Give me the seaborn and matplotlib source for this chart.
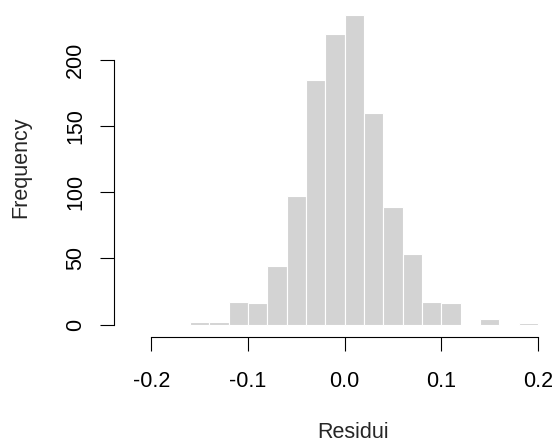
import numpy as np
import pandas as pd
import matplotlib
matplotlib.use("Agg")
import matplotlib.pyplot as plt
import seaborn as sns

# histogram of residuals, bins of width 0.02 from -0.22 to 0.24
bin_edges = [round(-0.22 + 0.02 * i, 2) for i in range(24)]
counts = [0, 0, 0, 2, 2, 17, 16, 44, 97, 185, 220, 234,
          160, 89, 53, 17, 16, 0, 4, 0, 1, 0, 0]
x_ticks = [-0.2, -0.1, 0.0, 0.1, 0.2]
x_tick_labels = ["-0.2", "-0.1", "0.0", "0.1", "0.2"]
y_ticks = [0, 50, 100, 150, 200]

centers = [(a + b) / 2 for a, b in zip(bin_edges[:-1], bin_edges[1:])]
df = pd.DataFrame({"residui": centers, "freq": counts})

sns.set_style("white")
plt.rcParams["font.family"] = ["Liberation Sans", "DejaVu Sans"]
plt.rcParams["axes.unicode_minus"] = False

fig = plt.figure(figsize=(5.55, 4.44), dpi=100)
ax = fig.add_axes([114 / 555, (444 - 337.4) / 444, 478 / 555, 334.9 / 444])

sns.histplot(data=df, x="residui", weights="freq", bins=bin_edges,
             color="#D3D3D3", edgecolor="white", linewidth=0.8, alpha=1,
             ax=ax)

ax.set_xlim(-0.2386, 0.2559)
ax.set_ylim(-9.75, 243.5)

for side in ["top", "right"]:
    ax.spines[side].set_visible(False)
for side in ["left", "bottom"]:
    ax.spines[side].set_color("black")
    ax.spines[side].set_linewidth(0.8)
ax.spines["bottom"].set_bounds(-0.2, 0.2)
ax.spines["left"].set_bounds(0, 200)

ax.set_xticks(x_ticks)
ax.set_xticklabels(x_tick_labels)
ax.set_yticks(y_ticks)
ax.set_yticklabels([str(v) for v in y_ticks], rotation=90, va="center")
ax.tick_params(axis="both", direction="out", length=10, width=0.8,
               color="black", labelsize=15.5, labelcolor="black", pad=14)
ax.tick_params(axis="x", bottom=True)
ax.tick_params(axis="y", left=True, pad=10)

ax.set_xlabel("Residui", fontsize=15.5)
ax.set_ylabel("Frequency", fontsize=15.5)
ax.xaxis.set_label_coords(0.5, (337.4 - 432) / 334.9)
ax.xaxis.label.set_verticalalignment("center")
ax.yaxis.set_label_coords((21 - 114) / 478, 0.507)
ax.yaxis.label.set_verticalalignment("center")

fig.savefig("out.png", dpi=100)
